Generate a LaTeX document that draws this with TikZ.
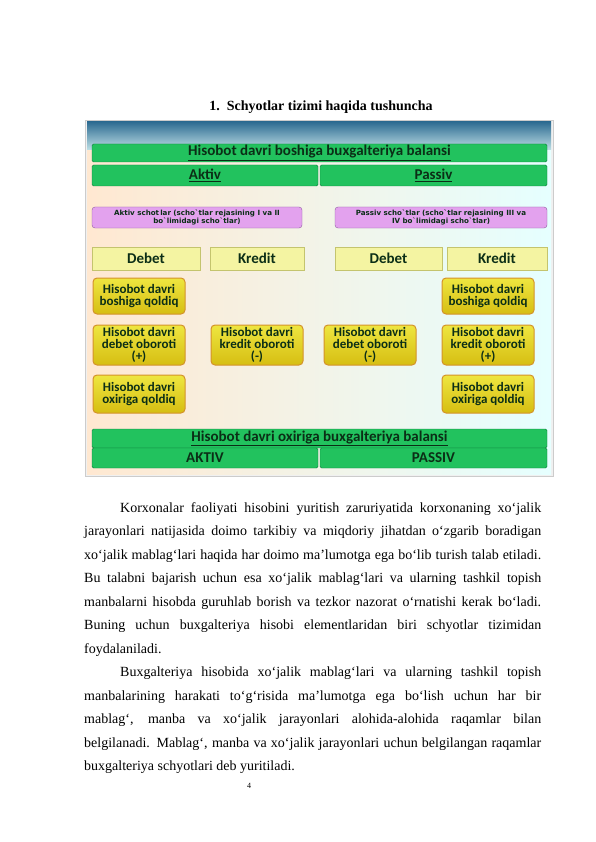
\documentclass[tikz,border=0pt]{standalone}
\usepackage{fontspec}
\setmainfont{Liberation Serif}
\newfontfamily\diafont{Carlito}
\newfontfamily\smallfont{DejaVu Sans}
\usetikzlibrary{positioning,calc}

\definecolor{barfill}{HTML}{22C25E}
\definecolor{barline}{HTML}{0E7D3C}
\definecolor{bartext}{HTML}{0B2E16}
\definecolor{pinkfill}{HTML}{E3A2EE}
\definecolor{pinkline}{HTML}{8F5FA0}
\definecolor{headfill}{HTML}{F4F4A2}
\definecolor{headline}{HTML}{C4C46E}
\definecolor{boxtop}{HTML}{EEE640}
\definecolor{boxbot}{HTML}{D6BE12}
\definecolor{boxline}{HTML}{D4922A}
\definecolor{bandtop}{HTML}{2E6C92}
\definecolor{bandbot}{HTML}{BFE0E6}

\begin{document}
\begin{tikzpicture}[
        x=1pt, y=-1pt,
        greenbar/.style={rectangle, draw=barline, fill=barfill, rounded corners=1.5pt, text=bartext, font=\diafont\bfseries\fontsize{15}{15}\selectfont, inner sep=0pt},
        pinkbox/.style={rectangle, draw=pinkline, fill=pinkfill, rounded corners=3pt, text=bartext, font=\smallfont\bfseries\fontsize{7.1}{8.2}\selectfont, align=center, inner sep=0pt},
        headbox/.style={rectangle, draw=headline, fill=headfill, text=bartext, font=\diafont\bfseries\fontsize{15}{15}\selectfont, inner sep=0pt},
        sumbox/.style={rectangle, draw=boxline, line width=1pt, top color=boxtop, bottom color=boxbot, rounded corners=4pt, minimum width=92pt, text=bartext, font=\diafont\bfseries\fontsize{13}{12}\selectfont, align=center, inner sep=0pt},
        bodytext/.style={text width=457pt, align=justify, inner sep=0pt, font=\fontsize{14}{23.5}\selectfont}
    ]
    \useasboundingbox (0,0) rectangle (596,842);
    \fill[white] (0,0) rectangle (596,842);

    % Title
    \node[font=\bfseries\fontsize{14}{16}\selectfont] (title) at (321,107) {1.\ \ Schyotlar tizimi haqida tushuncha};

    % Picture background
    \draw[gray!40, fill=gray!12] (85,120) rectangle (553,476);
    \shade[left color=orange!18, middle color=white, right color=cyan!10] (87,148) rectangle (551,474);
    \shade[top color=bandtop, bottom color=bandbot] (87,122) rectangle (551,150);

    % Opening balance
    \node[greenbar, minimum width=455pt, minimum height=18pt] (openbal) at (319.5,153) {\underline{Hisobot davri boshiga buxgalteriya balansi}};
    \node[greenbar, minimum width=226pt, minimum height=21pt] (openA) at (205,175.5) {\underline{Aktiv}};
    \node[greenbar, minimum width=227pt, minimum height=21pt] (openP) at (433.5,175.5) {\underline{Passiv}};

    % Account groups
    \node[pinkbox, minimum width=210pt, minimum height=21pt] (aktivgr) at (197,217.5) {Aktiv schot\,lar (scho`tlar rejasining I va II\\bo`limidagi scho`tlar)};
    \node[pinkbox, minimum width=212pt, minimum height=21pt] (passivgr) at (441,217.5) {Passiv scho`tlar (scho`tlar rejasining III va\\IV bo`limidagi scho`tlar)};

    % Debet / Kredit headers
    \node[headbox, minimum width=108pt, minimum height=23pt] (debA) at (146,258.5) {Debet};
    \node[headbox, minimum width=94pt, minimum height=23pt] (kreA) at (257,258.5) {Kredit};
    \node[headbox, minimum width=107pt, minimum height=23pt] (debP) at (388.5,258.5) {Debet};
    \node[headbox, minimum width=100pt, minimum height=23pt] (kreP) at (497,258.5) {Kredit};

    % Aktiv side
    \node[sumbox, minimum height=36pt] (begA) at (139,296) {Hisobot davri\\boshiga qoldiq};
    \node[sumbox, minimum height=40pt] (dobA) at (139,345) {Hisobot davri\\debet oboroti\\(+)};
    \node[sumbox, minimum height=40pt] (kobA) at (257,345) {Hisobot davri\\kredit oboroti\\(-)};
    \node[sumbox, minimum height=38pt] (endA) at (139,394) {Hisobot davri\\oxiriga qoldiq};

    % Passiv side
    \node[sumbox, minimum height=36pt] (begP) at (488,296) {Hisobot davri\\boshiga qoldiq};
    \node[sumbox, minimum height=40pt] (dobP) at (370,345) {Hisobot davri\\debet oboroti\\(-)};
    \node[sumbox, minimum height=40pt] (kobP) at (488,345) {Hisobot davri\\kredit oboroti\\(+)};
    \node[sumbox, minimum height=38pt] (endP) at (488,394) {Hisobot davri\\oxiriga qoldiq};

    % Closing balance
    \node[greenbar, minimum width=455pt, minimum height=19pt] (closebal) at (319.5,438.5) {\underline{Hisobot davri oxiriga buxgalteriya balansi}};
    \node[greenbar, minimum width=226pt, minimum height=20pt] (closeA) at (205,458) {AKTIV};
    \node[greenbar, minimum width=227pt, minimum height=20pt] (closeP) at (433.5,458) {PASSIV};

    % Text below the picture
    \node[bodytext, anchor=north west] (para) at (84,502) {\hyphenpenalty=10000 \exhyphenpenalty=10000
        \hspace*{36pt}Korxonalar faoliyati hisobini yuritish zaruriyatida korxonaning xo‘jalik\linebreak
        jarayonlari natijasida doimo tarkibiy va miqdoriy jihatdan o‘zgarib boradigan\linebreak
        xo‘jalik mablag‘lari haqida har doimo ma’lumotga ega bo‘lib turish talab etiladi.\linebreak
        Bu talabni bajarish uchun esa xo‘jalik mablag‘lari va ularning tashkil topish\linebreak
        manbalarni hisobda guruhlab borish va tezkor nazorat o‘rnatishi kerak bo‘ladi.\linebreak
        Buning uchun buxgalteriya hisobi elementlaridan biri schyotlar tizimidan\linebreak
        foydalaniladi.\par
        \hspace*{36pt}Buxgalteriya hisobida xo‘jalik mablag‘lari va ularning tashkil topish\linebreak
        manbalarining harakati to‘g‘risida ma’lumotga ega bo‘lish uchun har bir\linebreak
        mablag‘, manba va xo‘jalik jarayonlari alohida-alohida raqamlar bilan\linebreak
        belgilanadi. Mablag‘, manba va xo‘jalik jarayonlari uchun belgilangan raqamlar\linebreak
        buxgalteriya schyotlari deb yuritiladi.};

    % Page number
    \node[font=\fontsize{8}{9}\selectfont] (pageno) at (249,786) {4};

\end{tikzpicture}
\end{document}
